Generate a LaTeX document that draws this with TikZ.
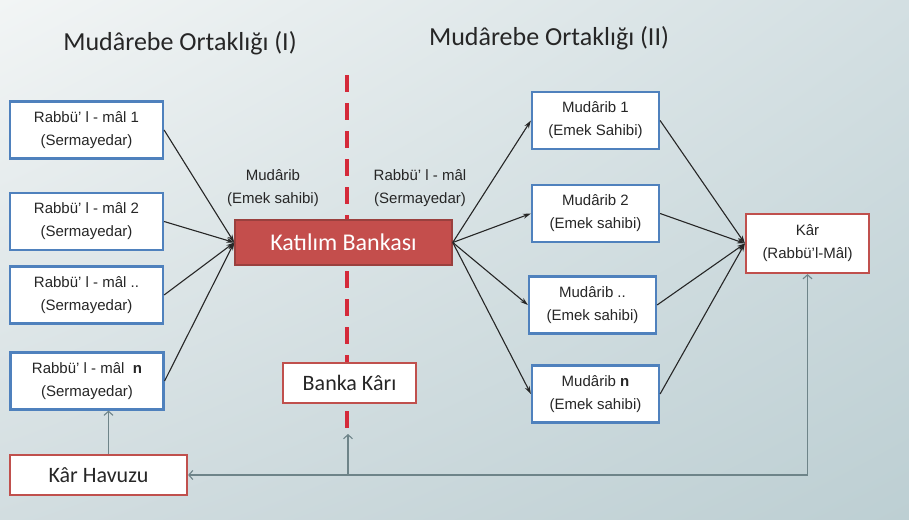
\documentclass[tikz,border=0pt]{standalone}
\usepackage{fontspec}
\setmainfont{Liberation Sans}
\newfontfamily\calfont{Carlito}
\usetikzlibrary{arrows.meta, positioning, calc, shadings}

\definecolor{boxblue}{HTML}{4F81BD}
\definecolor{boxred}{HTML}{C0504D}
\definecolor{bankfill}{HTML}{C44E4C}
\definecolor{dashred}{HTML}{D42A3A}
\definecolor{flowgray}{HTML}{6E8489}
\definecolor{inkgray}{HTML}{262626}
\definecolor{bgul}{HTML}{F2F5F5}
\definecolor{bgur}{HTML}{D3DFE2}
\definecolor{bgll}{HTML}{D2DDE0}
\definecolor{bglr}{HTML}{BDCFD3}

\tikzset{
  partner/.style={draw=boxblue, line width=2.2pt, fill=white, minimum width=153pt, minimum height=57pt,
    inner sep=0pt, align=center, text=inkgray, font=\fontsize{15}{23}\selectfont},
  worker/.style={partner, minimum width=127pt},
  profitbox/.style={draw=boxred, line width=2.2pt, fill=white, inner sep=0pt, align=center, text=inkgray},
  link/.style={inkgray, line width=1.1pt, -{Stealth[length=8pt,width=5pt]}},
  flow/.style={flowgray, line width=1.1pt},
  flowtip/.style={flow, -{Straight Barb[length=4pt,width=9pt]}},
}

\begin{document}
\begin{tikzpicture}[x=1pt, y=-1pt]
  % Background
  \useasboundingbox (0,0) rectangle (909,519);
  \shade[upper left=bgul, upper right=bgur, lower left=bgll, lower right=bglr]
    (0,0) rectangle (909,519);

  % Titles
  \node[text=inkgray, font=\calfont\fontsize{26}{30}\selectfont] (titleI) at (180,43) {Mudârebe Ortaklığı (I)};
  \node[text=inkgray, font=\calfont\fontsize{26}{30}\selectfont] (titleII) at (549,38) {Mudârebe Ortaklığı (II)};

  % Dividing line between the two partnerships
  \coordinate (dtop) at (347,75);
  \coordinate (dbot) at (347,430);
  \draw[dashred, line width=4pt, dash pattern=on 17pt off 11pt] (dtop) -- (dbot);

  % Left: capital owners
  \node[partner] (r1) at (86.5,130) {Rabbü' l - mâl 1\\(Sermayedar)};
  \node[partner] (r2) at (86.5,221.5) {Rabbü' l - mâl 2\\(Sermayedar)};
  \node[partner] (r3) at (86.5,295) {Rabbü' l - mâl ..\\(Sermayedar)};
  \node[partner] (rn) at (87,381) {Rabbü' l - mâl \ \textbf{n}\\(Sermayedar)};

  % Middle: the bank
  \node[draw=boxred!80!black, line width=1.5pt, fill=bankfill, minimum width=217pt, minimum height=45pt,
    text=white, font=\calfont\fontsize{24}{28}\selectfont] (bank) at (343.5,242.5) {Katılım Bankası};
  \node[align=center, text=inkgray, font=\fontsize{15}{23}\selectfont] (roleA) at (273,188) {Mudârib\\(Emek sahibi)};
  \node[align=center, text=inkgray, font=\fontsize{15}{23}\selectfont] (roleB) at (420,188) {Rabbü' l - mâl\\(Sermayedar)};
  \node[profitbox, minimum width=133pt, minimum height=40pt, font=\calfont\fontsize{22}{26}\selectfont] (bankprofit) at (349.5,383) {Banka Kârı};

  % Right: entrepreneurs
  \node[worker] (m1) at (595.5,120.5) {Mudârib 1\\(Emek Sahibi)};
  \node[worker] (m2) at (595.5,213.5) {Mudârib 2\\(Emek sahibi)};
  \node[worker] (m3) at (592.5,305) {Mudârib ..\\(Emek sahibi)};
  \node[worker] (mn) at (595.5,394) {Mudârib \textbf{n}\\(Emek sahibi)};
  \node[profitbox, minimum width=123pt, minimum height=59pt, font=\fontsize{15}{23}\selectfont] (profit) at (807.5,243.5) {Kâr\\(Rabbü'l-Mâl)};

  % Profit pool
  \node[profitbox, minimum width=177pt, minimum height=40pt, font=\calfont\fontsize{22}{26}\selectfont] (pool) at (98.5,475) {Kâr Havuzu};

  % Capital into the bank
  \draw[link] (r1.east) -- (bank.west);
  \draw[link] (r2.east) -- (bank.west);
  \draw[link] (r3.east) -- (bank.west);
  \draw[link] (rn.east) -- (bank.west);

  % Bank out to the entrepreneurs
  \draw[link] (bank.east) -- (m1.west);
  \draw[link] (bank.east) -- (m2.west);
  \draw[link] (bank.east) -- (m3.west);
  \draw[link] (bank.east) -- (mn.west);

  % Entrepreneurs into the profit
  \draw[link] (m1.east) -- (profit.west);
  \draw[link] (m2.east) -- (profit.west);
  \draw[link] (m3.east) -- (profit.west);
  \draw[link] (mn.east) -- (profit.west);

  % Profit returns
  \coordinate (corner) at (profit.south |- pool.east);
  \coordinate (cut) at (348,434);
  \draw[flow, {Straight Barb[length=4pt,width=9pt]}-{Straight Barb[length=4pt,width=9pt]}] (pool.east) -- (corner) -- (profit.south);
  \draw[flowtip] (cut |- corner) -- (cut);
  \draw[flowtip] ([xshift=10pt]pool.north) -- ([xshift=10pt]pool.north |- rn.south);
\end{tikzpicture}
\end{document}
